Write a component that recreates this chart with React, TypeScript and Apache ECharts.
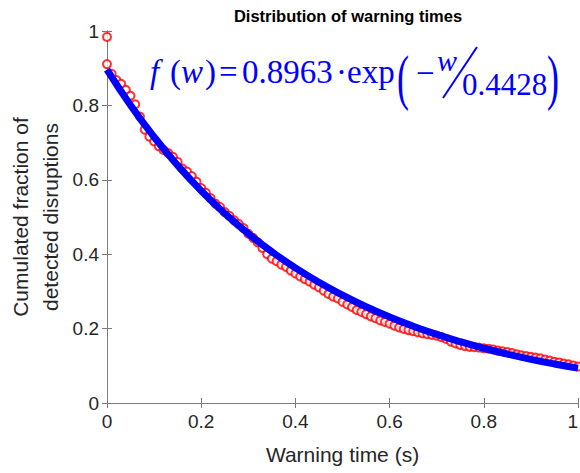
import React, { useEffect, useRef } from "react";
import * as echarts from "echarts";

// Measured cumulated fraction (red circles), warning time step of 0.01 s from 0 to 1
const measuredStart = [0.984]; // extra point at w = 0
const measuredValues = [
  0.911, 0.885, 0.868, 0.858, 0.842, 0.826, 0.803, 0.770, 0.735, 0.716,
  0.703, 0.690, 0.680, 0.672, 0.662, 0.648, 0.630, 0.622, 0.610, 0.595,
  0.578, 0.565, 0.551, 0.536, 0.527, 0.513, 0.503, 0.491, 0.481, 0.470,
  0.455, 0.444, 0.432, 0.417, 0.400, 0.388, 0.381, 0.372, 0.366, 0.356,
  0.348, 0.340, 0.333, 0.326, 0.318, 0.311, 0.302, 0.293, 0.286, 0.281,
  0.272, 0.265, 0.258, 0.250, 0.245, 0.239, 0.233, 0.228, 0.222, 0.218,
  0.213, 0.208, 0.203, 0.199, 0.196, 0.193, 0.190, 0.187, 0.185, 0.183,
  0.181, 0.177, 0.172, 0.165, 0.160, 0.156, 0.153, 0.151, 0.150, 0.149,
  0.147, 0.146, 0.144, 0.141, 0.139, 0.137, 0.134, 0.131, 0.128, 0.126,
  0.124, 0.122, 0.120, 0.117, 0.114, 0.111, 0.109, 0.106, 0.104, 0.101,
  0.098,
];

// Fitted curve samples (blue line)
const fitTimes = [
  0, 0.05, 0.1, 0.15, 0.2, 0.25, 0.3, 0.35, 0.4, 0.45, 0.5,
  0.55, 0.6, 0.65, 0.7, 0.75, 0.8, 0.85, 0.9, 0.95, 1.0,
];
const fitValues = [
  0.8963, 0.8006, 0.7151, 0.6387, 0.5705, 0.5096, 0.4552, 0.4066, 0.3632, 0.3244, 0.2898,
  0.2588, 0.2312, 0.2065, 0.1845, 0.1648, 0.1472, 0.1315, 0.1174, 0.1049, 0.0937,
];

const xTicks = [0, 0.2, 0.4, 0.6, 0.8, 1];

const titleText = "Distribution of warning times";
const xName = "Warning time (s)";
const yName = "Cumulated fraction of\ndetected disruptions";

export default function App() {
  const ref = useRef<HTMLDivElement>(null);

  useEffect(() => {
    if (!ref.current) return;
    const chart = echarts.init(ref.current, undefined, { renderer: "svg" });

    const measured: number[][] = [];
    measuredStart.forEach((v) => measured.push([0, v]));
    measuredValues.forEach((v, i) => measured.push([i / 100, v]));
    const fit = fitTimes.map((t, i) => [t, fitValues[i]]);

    const axisColor = "#7a7a7a";
    const labelColor = "#262626";
    const sans = "Liberation Sans";
    const serif = "Liberation Serif";
    const blue = "#0000ff";

    const txt = (
      text: string,
      x: number,
      y: number,
      size: number,
      italic = false,
      scaleY = 1
    ) => ({
      type: "text",
      x,
      y,
      scaleY,
      silent: true,
      style: {
        text,
        fill: blue,
        font: `${italic ? "italic " : ""}${size}px "${serif}"`,
        align: "left",
        verticalAlign: "middle",
        textAlign: "left",
        textVerticalAlign: "middle",
      },
    });

    const baseX = {
      type: "value",
      min: 0,
      max: 1,
      interval: 0.2,
      splitLine: { show: false },
      axisLine: { show: true, lineStyle: { color: axisColor, width: 1 } },
      axisTick: { show: true, inside: true, length: 5, lineStyle: { color: axisColor } },
    };
    const baseY = {
      type: "value",
      min: 0,
      max: 1,
      interval: 0.2,
      splitLine: { show: false },
      axisLine: { show: true, lineStyle: { color: axisColor, width: 1 } },
      axisTick: { show: true, inside: true, length: 5, lineStyle: { color: axisColor } },
    };

    chart.setOption({
      animation: false,
      backgroundColor: "#ffffff",
      title: {
        text: titleText,
        left: 343,
        top: 2,
        textAlign: "center",
        textStyle: {
          fontSize: 16.5,
          fontWeight: "bold",
          fontFamily: sans,
          color: "#000000",
        },
      },
      grid: {
        left: 107,
        right: 2,
        top: 31,
        bottom: 70,
        containLabel: false,
        outerBoundsMode: "none",
      },
      xAxis: [
        {
          ...baseX,
          position: "bottom",
          name: xName,
          nameLocation: "middle",
          nameGap: 41,
          nameMoveOverlap: false,
          nameTextStyle: { fontSize: 21, fontFamily: sans, color: labelColor },
          axisLabel: {
            show: true,
            margin: 9,
            fontSize: 19,
            fontFamily: sans,
            color: labelColor,
            alignMaxLabel: "right",
            formatter: (v: number) => {
              const t = xTicks.find((k) => Math.abs(k - v) < 1e-9);
              return t === undefined ? "" : String(t);
            },
          },
        },
        { ...baseX, position: "top", axisLabel: { show: false } },
      ],
      yAxis: [
        {
          ...baseY,
          position: "left",
          name: yName,
          nameLocation: "middle",
          nameRotate: 90,
          nameGap: 42,
          nameMoveOverlap: false,
          nameTextStyle: {
            fontSize: 21,
            fontFamily: sans,
            color: labelColor,
            lineHeight: 30,
          },
          axisLabel: {
            show: true,
            margin: 8,
            fontSize: 19,
            fontFamily: sans,
            color: labelColor,
          },
        },
        { ...baseY, position: "right", axisLabel: { show: false } },
      ],
      series: [
        {
          type: "scatter",
          name: "measured",
          data: measured,
          symbol: "emptyCircle",
          symbolSize: 8,
          clip: false,
          itemStyle: { color: "#ff0000", borderColor: "#ff0000", borderWidth: 1 },
          xAxisIndex: 0,
          yAxisIndex: 0,
          z: 2,
        },
        {
          type: "line",
          name: "fit",
          data: fit,
          smooth: true,
          showSymbol: false,
          symbol: "none",
          lineStyle: { color: blue, width: 7 },
          xAxisIndex: 0,
          yAxisIndex: 0,
          z: 3,
        },
      ],
      graphic: [
        txt("f", 150, 72, 33, true),
        txt("(", 170, 72, 33),
        txt("w", 181, 72, 33, true),
        txt(")", 205, 72, 33),
        txt("=", 219, 72, 33),
        txt("0.8963", 242, 72, 33),
        txt("·", 336, 72, 33),
        txt("exp", 347, 72, 33),
        txt("(", 397, 77, 36, false, 1.7),
        txt("−", 416, 73, 33),
        txt("w", 437, 60, 30, true),
        {
          type: "line",
          silent: true,
          shape: { x1: 477, y1: 47, x2: 443, y2: 98 },
          style: { stroke: blue, lineWidth: 2 },
        },
        txt("0.4428", 462, 84, 31),
        txt(")", 547, 77, 36, false, 1.7),
      ],
    });

    return () => chart.dispose();
  }, []);

  return (
    <div
      ref={ref}
      style={{ position: "fixed", left: 0, top: 0, width: 580, height: 473 }}
    />
  );
}
